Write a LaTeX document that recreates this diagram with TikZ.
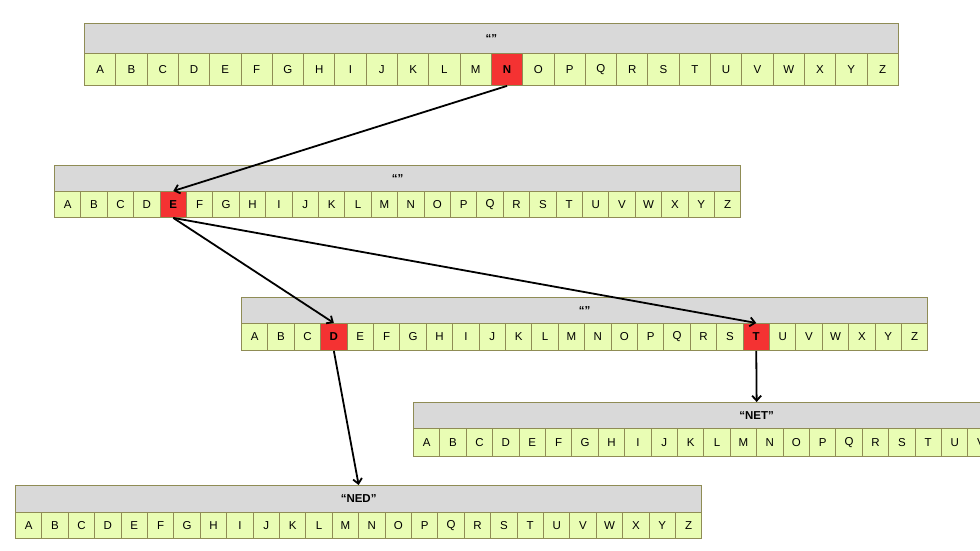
\documentclass[tikz,border=0pt]{standalone}
\usepackage{fontspec}
\setmainfont{Liberation Sans}
\usetikzlibrary{arrows.meta}
\definecolor{cellgreen}{HTML}{E9FDB4}
\definecolor{cellborder}{HTML}{8F8C55}
\definecolor{hdrgray}{HTML}{D9D9D9}
\definecolor{hitred}{HTML}{F43232}
\newcommand{\triearray}[7]{%
  \node[hdr, minimum width=26*#6, minimum height=#4-#3, anchor=north west] (#1h) at (#2,#3) {#7};
  \foreach \L [count=\i from 0] in {A,...,Z} {
    \node[cell, hit#1\L/.try, minimum width=#6, minimum height=#5-#4, anchor=north west] (#1-\L) at ({#2+\i*#6},#4) {\L};
  }%
}
\begin{document}
\begin{tikzpicture}[x=1pt,y=-1pt,
  cell/.style={draw=cellborder, fill=cellgreen, line width=0.9pt, inner sep=0pt, font=\fontsize{11.5}{13}\selectfont},
  hdr/.style={draw=cellborder, fill=hdrgray, line width=0.9pt, inner sep=0pt, font=\fontsize{11.5}{13}\selectfont\bfseries},
  hitcell/.style={fill=hitred, font=\fontsize{11.5}{13}\selectfont\bfseries},
  hitaN/.style={hitcell}, hitbE/.style={hitcell}, hitcD/.style={hitcell}, hitcT/.style={hitcell},
  arr/.style={line width=1.8pt, -{Straight Barb[length=5pt,width=9pt,line width=1.8pt]}}]
\useasboundingbox (0,0) rectangle (980,551);
\clip (0,0) rectangle (980,551);
\fill[white] (0,0) rectangle (980,551);
\triearray{a}{84}{23}{53}{85}{31.3}{“”}
\triearray{b}{54}{165}{191}{217}{26.4}{“”}
\triearray{c}{241}{297}{323}{350}{26.4}{“”}
\triearray{d}{413}{402}{428}{456}{26.4}{“NET”}
\triearray{e}{15}{485}{512}{538}{26.4}{“NED”}
\draw[arr] (a-N.south) -- (b-E.north);
\draw[arr] (b-E.south) -- (c-D.north);
\draw[arr] (b-E.south) -- (c-T.north);
\draw[arr] (c-D.south) -- (eh.north);
\draw[arr] (c-T.south) -- (dh.north);
\end{tikzpicture}
\end{document}
